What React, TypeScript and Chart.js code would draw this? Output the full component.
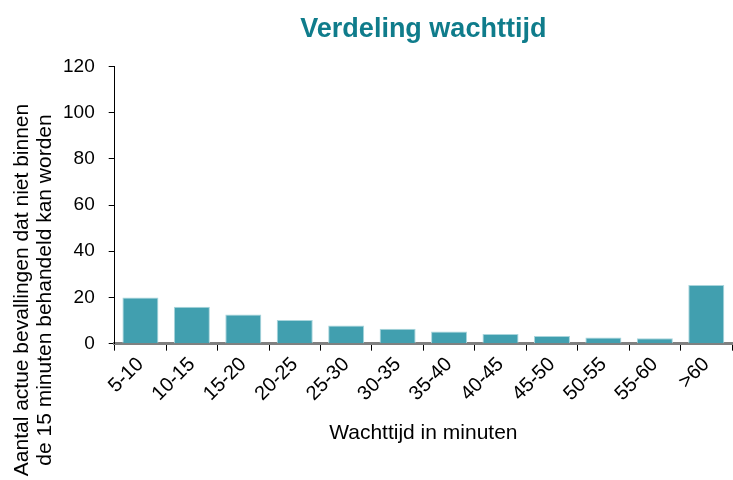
import React, { useEffect, useRef } from "react";
import { Chart, registerables } from "chart.js";

Chart.register(...registerables);

const categories = ["5-10", "10-15", "15-20", "20-25", "25-30", "30-35", "35-40", "40-45", "45-50", "50-55", "55-60", ">60"];
const values = [20, 16, 12.6, 10.2, 7.9, 6.5, 5.3, 4.2, 3.3, 2.7, 2.3, 25.4];
const yTicks = [0, 20, 40, 60, 80, 100, 120];
const titleText = "Verdeling wachttijd";
const xTitle = "Wachttijd in minuten";
const yTitleLines = ["Aantal actue bevallingen dat niet binnen", "de 15 minuten behandeld kan worden"];

const FONT = "'Liberation Sans', Arial, sans-serif";

const yTitlePlugin = {
  id: "yTitlePlugin",
  afterDraw(chart: any) {
    const ctx = chart.ctx;
    ctx.save();
    ctx.font = `21px ${FONT}`;
    ctx.fillStyle = "#000";
    ctx.textAlign = "center";
    ctx.textBaseline = "middle";
    const xs = [22, 45];
    yTitleLines.forEach((line, i) => {
      ctx.save();
      ctx.translate(xs[i], 290);
      ctx.rotate(-Math.PI / 2);
      ctx.fillText(line, 0, 0);
      ctx.restore();
    });
    ctx.restore();
  },
};

export default function App() {
  const ref = useRef<HTMLCanvasElement | null>(null);
  useEffect(() => {
    if (!ref.current) return;
    const chart = new Chart(ref.current, {
      type: "bar",
      data: {
        labels: categories,
        datasets: [
          {
            data: values,
            backgroundColor: "#419faf",
            borderColor: "#a9d5dc",
            borderWidth: 1,
            barPercentage: 0.7,
            categoryPercentage: 1,
          },
        ],
      },
      options: {
        animation: false,
        responsive: false,
        maintainAspectRatio: false,
        layout: { padding: { left: 49, right: 1, top: 0, bottom: 34 } },
        plugins: {
          legend: { display: false },
          tooltip: { enabled: false },
          title: {
            display: true,
            text: titleText,
            color: "#0f7c8b",
            font: { family: FONT, size: 27, weight: "bold" },
            padding: { top: 13, bottom: 21 },
            fullSize: false,
          },
        },
        scales: {
          x: {
            grid: {
              display: true,
              drawOnChartArea: false,
              drawTicks: true,
              tickLength: 7,
              tickColor: "#000",
              offset: true,
            },
            border: { display: true, color: "#808080", width: 3 },
            ticks: {
              color: "#000",
              font: { family: FONT, size: 20 },
              minRotation: 45,
              maxRotation: 45,
              padding: 2,
            },
            title: {
              display: true,
              text: xTitle,
              color: "#000",
              font: { family: FONT, size: 21 },
              padding: { top: 13, bottom: 0 },
            },
          },
          y: {
            min: 0,
            max: 120,
            afterBuildTicks: (axis: any) => {
              axis.ticks = yTicks.map((v) => ({ value: v }));
            },
            grid: {
              display: true,
              drawOnChartArea: false,
              drawTicks: true,
              tickLength: 6,
              tickColor: "#000",
            },
            border: { display: true, color: "#000", width: 1 },
            ticks: {
              color: "#000",
              font: { family: FONT, size: 19 },
              padding: 14,
            },
          },
        },
      },
      plugins: [yTitlePlugin],
    });
    return () => chart.destroy();
  }, []);
  return (
    <div style={{ position: "fixed", left: 0, top: 0, width: 733, height: 480, background: "#fff" }}>
      <canvas ref={ref} width={733} height={480} style={{ width: 733, height: 480 }} />
    </div>
  );
}
